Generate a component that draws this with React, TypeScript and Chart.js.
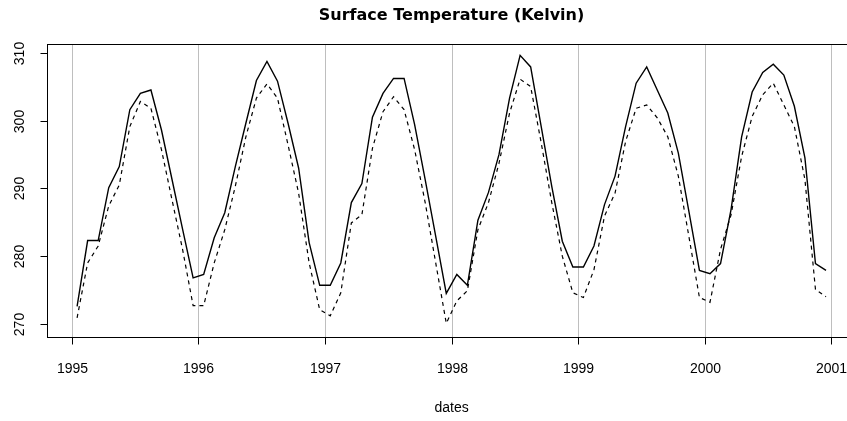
import React, { useEffect, useRef } from "react";
import { Chart, registerables } from "chart.js";

Chart.register(...registerables);

const years = [1995, 1996, 1997, 1998, 1999, 2000];
const monthsPerYear = 12;

const surfaceTemp = [
  272.6, 282.3, 282.3, 290.1, 293.2, 301.6, 304.0, 304.5, 298.6, 291.3, 284.0, 276.8,
  277.3, 282.7, 286.4, 293.2, 299.6, 305.9, 308.7, 305.8, 299.6, 293.0, 282.0, 275.7,
  275.7, 279.0, 287.9, 290.7, 300.5, 304.0, 306.2, 306.2, 299.4, 291.3, 282.9, 274.5,
  277.3, 275.7, 285.3, 289.4, 295.0, 303.3, 309.6, 307.9, 299.1, 290.3, 282.2, 278.4,
  278.4, 281.5, 287.6, 291.8, 299.1, 305.5, 307.9, 304.5, 301.1, 295.2, 286.6, 277.9,
  277.4, 278.9, 286.9, 297.6, 304.2, 307.1, 308.3, 306.7, 302.1, 294.5, 278.9, 277.9,
];

const secondTemp = [
  270.9, 279.0, 281.5, 287.4, 290.5, 299.1, 302.8, 301.8, 295.7, 288.3, 281.0, 272.7,
  272.7, 279.0, 283.9, 290.3, 297.6, 303.3, 305.4, 303.3, 296.4, 289.3, 279.0, 272.1,
  271.2, 274.6, 284.9, 286.1, 295.9, 301.3, 303.5, 301.6, 295.7, 287.9, 279.0, 270.1,
  273.4, 274.9, 283.9, 287.9, 293.7, 301.1, 306.1, 305.0, 296.7, 287.9, 280.0, 274.6,
  273.9, 278.0, 285.9, 289.3, 296.9, 301.8, 302.3, 300.4, 297.6, 291.8, 282.9, 273.9,
  273.2, 281.0, 286.1, 294.7, 300.6, 303.8, 305.5, 302.3, 299.1, 291.3, 275.1, 274.0,
];

const xTickValues = [1995, 1996, 1997, 1998, 1999, 2000, 2001];
const xTickLabels = ["1995", "1996", "1997", "1998", "1999", "2000", "2001"];
const yTickValues = [270, 280, 290, 300, 310];
const yTickLabels = ["270", "280", "290", "300", "310"];

const titleText = "Surface Temperature (Kelvin)";
const xAxisTitle = "dates";

const CANVAS_W = 858;
const CANVAS_H = 421;
const TICK_FONT = '14px "Liberation Sans", Arial, sans-serif';

const dates: number[] = [];
years.forEach((y) => {
  for (let m = 0; m < monthsPerYear; m++) dates.push(y + (m + 0.5) / monthsPerYear);
});

const rFramePlugin = {
  id: "rframe",
  beforeDatasetsDraw(chart: any) {
    const { ctx, chartArea: a, scales } = chart;
    const x = scales.x;
    ctx.save();
    ctx.strokeStyle = "#bebebe";
    ctx.lineWidth = 1;
    xTickValues.forEach((v) => {
      const px = Math.round(x.getPixelForValue(v)) + 0.5;
      ctx.beginPath();
      ctx.moveTo(px, a.top);
      ctx.lineTo(px, a.bottom);
      ctx.stroke();
    });
    ctx.restore();
  },
  afterDatasetsDraw(chart: any) {
    const { ctx, chartArea: a, scales } = chart;
    const x = scales.x;
    const y = scales.y;
    ctx.save();
    ctx.strokeStyle = "#000";
    ctx.lineWidth = 1;
    const L = Math.round(a.left) + 0.5;
    const T = Math.round(a.top) + 0.5;
    const B = Math.round(a.bottom) + 0.5;
    const R = Math.round(a.right) + 0.5;
    ctx.strokeRect(L, T, R - L, B - T);

    // x ticks
    ctx.fillStyle = "#000";
    ctx.font = TICK_FONT;
    ctx.textAlign = "center";
    ctx.textBaseline = "middle";
    xTickValues.forEach((v, i) => {
      const px = Math.round(x.getPixelForValue(v)) + 0.5;
      ctx.beginPath();
      ctx.moveTo(px, B);
      ctx.lineTo(px, B + 7);
      ctx.stroke();
      ctx.fillText(xTickLabels[i], px, 369);
    });

    // y ticks
    yTickValues.forEach((v, i) => {
      const py = Math.round(y.getPixelForValue(v)) + 0.5;
      ctx.beginPath();
      ctx.moveTo(L - 7, py);
      ctx.lineTo(L, py);
      ctx.stroke();
      ctx.save();
      ctx.translate(20.5, py);
      ctx.rotate(-Math.PI / 2);
      ctx.fillText(yTickLabels[i], 0, 0);
      ctx.restore();
    });

    const cx = (a.left + a.right) / 2;
    ctx.fillText(xAxisTitle, cx, 408);

    ctx.font = 'bold 16px "DejaVu Sans", sans-serif';
    ctx.textBaseline = "alphabetic";
    ctx.fillText(titleText, cx, 20);
    ctx.restore();
  },
};

export default function App() {
  const ref = useRef<HTMLCanvasElement | null>(null);
  useEffect(() => {
    if (!ref.current) return;
    const chart = new Chart(ref.current, {
      type: "line",
      data: {
        datasets: [
          {
            label: "solid",
            data: dates.map((d, i) => ({ x: d, y: surfaceTemp[i] })),
            borderColor: "#000",
            borderWidth: 1.4,
            pointRadius: 0,
            tension: 0,
            fill: false,
          },
          {
            label: "dashed",
            data: dates.map((d, i) => ({ x: d, y: secondTemp[i] })),
            borderColor: "#000",
            borderWidth: 1.2,
            borderDash: [4, 4],
            pointRadius: 0,
            tension: 0,
            fill: false,
          },
        ],
      },
      options: {
        animation: false,
        responsive: false,
        devicePixelRatio: 1,
        layout: { padding: { left: 46.5, top: 44, right: CANVAS_W - 856.6, bottom: CANVAS_H - 337 } },
        plugins: { legend: { display: false }, tooltip: { enabled: false }, title: { display: false } },
        scales: {
          x: { type: "linear", display: false, min: 1994.8, max: 2001.2 },
          y: { type: "linear", display: false, min: 268.08, max: 311.28 },
        },
      },
      plugins: [rFramePlugin],
    });
    return () => chart.destroy();
  }, []);
  return (
    <div style={{ position: "fixed", left: 0, top: 0, width: 847, height: 421, overflow: "hidden", background: "#fff" }}>
      <canvas ref={ref} width={CANVAS_W} height={CANVAS_H} style={{ display: "block" }} />
    </div>
  );
}
